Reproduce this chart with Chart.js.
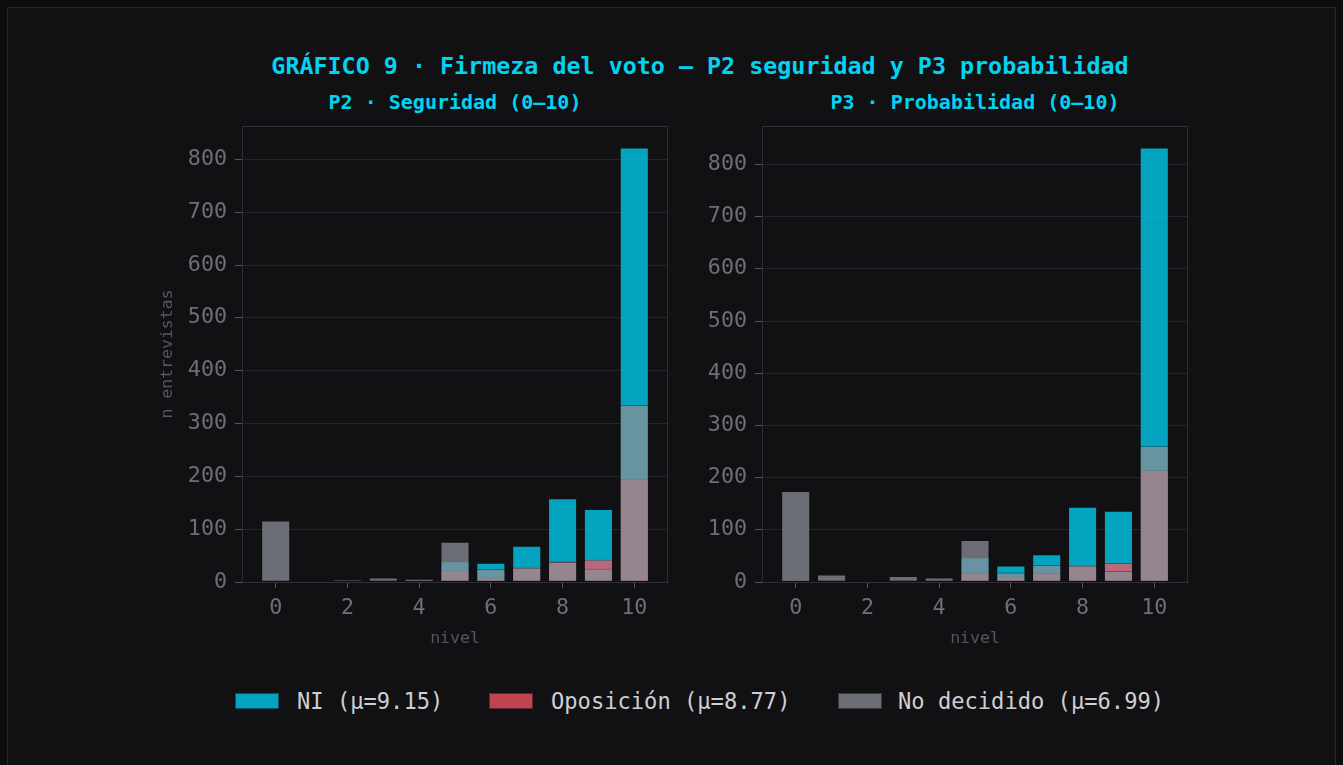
<!DOCTYPE html>
<html>
<head>
<meta charset="utf-8">
<script src="https://cdn.jsdelivr.net/npm/chart.js@4.4.1/dist/chart.umd.min.js"></script>
<style>
  html, body { margin:0; padding:0; width:1343px; height:765px; overflow:hidden; background:#0d0d10; font-family:'DejaVu Sans Mono', monospace; }
  #frame { position:absolute; left:7px; top:7px; width:1329px; height:800px; border:1px solid #26262c; background:#111114; box-sizing:border-box; }
  #title { position:absolute; left:0; top:55px; width:1400px; text-align:center; font-weight:bold; font-size:23.35px; line-height:23.35px; color:#00d4f2; white-space:nowrap; }
  .sub { position:absolute; top:91.5px; width:400px; text-align:center; font-weight:bold; font-size:20px; line-height:20px; color:#00d4f2; white-space:nowrap; }
  canvas { position:absolute; }
  .lg-patch { position:absolute; top:693px; width:44px; height:16px; box-sizing:border-box; border:1px solid rgba(17,17,20,0.55); }
  .lg-text { position:absolute; top:690.3px; font-size:22.1px; line-height:22.1px; color:#cfcfd3; white-space:nowrap; }
</style>
</head>
<body>
<div id="frame"></div>
<div id="title">GRÁFICO 9 · Firmeza del voto — P2 seguridad y P3 probabilidad</div>
<div class="sub" style="left:255px;">P2 · Seguridad (0–10)</div>
<div class="sub" style="left:775px;">P3 · Probabilidad (0–10)</div>
<canvas id="c1" width="550" height="600" style="left:150px; top:80px;"></canvas>
<canvas id="c2" width="550" height="600" style="left:700px; top:80px;"></canvas>
<div id="legend"></div>
<script>
// ---- data ----
const levels = [0, 1, 2, 3, 4, 5, 6, 7, 8, 9, 10];
const xTicks = [0, 2, 4, 6, 8, 10];
const yTicks = [0, 100, 200, 300, 400, 500, 600, 700, 800];

const seriesNames = ['NI (μ=9.15)', 'Oposición (μ=8.77)', 'No decidido (μ=6.99)'];

// P2 · Seguridad
const p2NI  = [0, 0, 0, 0, 0, 39, 36, 68, 158, 138, 822];
const p2Opp = [0, 0, 0, 0, 5, 22, 8, 27, 39, 42, 195];
const p2ND  = [116, 0, 5, 8, 6, 76, 24, 27, 38, 25, 335];

// P3 · Probabilidad
const p3NI  = [2, 0, 0, 0, 0, 47, 31, 53, 144, 136, 832];
const p3Opp = [5, 0, 0, 0, 0, 18, 10, 17, 31, 36, 214];
const p3ND  = [174, 14, 4, 11, 8, 80, 18, 32, 31, 21, 260];

// ---- style ----
const colNI  = 'rgba(0,214,249,0.75)';
const colOpp = 'rgba(250,84,100,0.75)';
const colND  = 'rgba(137,141,149,0.75)';
const edge   = 'rgba(17,17,20,0.6)';
const FONT = "'DejaVu Sans Mono', monospace";
const tickColor = '#6e6e76';
const gridColor = '#24242a';
const spineColor = '#2e2e36';
const tickMarkColor = '#55555c';
const labelColor = '#56565e';

const framePlugin = {
  id: 'frame',
  afterDatasetsDraw(chart) {
    const { ctx, chartArea: a } = chart;
    ctx.save();
    ctx.strokeStyle = spineColor;
    ctx.lineWidth = 1;
    ctx.strokeRect(Math.round(a.left) + 0.5, Math.round(a.top) + 0.5, Math.round(a.width) - 1, Math.round(a.height));
    ctx.restore();
  }
};

function makeChart(id, ni, opp, nd, yWidth, rightPad, yTitle) {
  const barW = 0.8;
  const xSpan = (levels[levels.length - 1] - levels[0]) + barW;
  const xMin = levels[0] - barW / 2 - 0.05 * xSpan;
  const xMax = levels[levels.length - 1] + barW / 2 + 0.05 * xSpan;
  const yMax = Math.max(...ni, ...opp, ...nd) * 1.05;
  const mk = (label, vals, color, order) => ({
    label,
    data: levels.map((l, i) => ({ x: l, y: vals[i] })),
    backgroundColor: color,
    borderColor: edge,
    borderWidth: 0.8,
    borderSkipped: false,
    order,
    categoryPercentage: barW,
    barPercentage: 1
  });
  return new Chart(document.getElementById(id), {
    type: 'bar',
    data: {
      datasets: [
        mk(seriesNames[0], ni, colNI, 3),
        mk(seriesNames[1], opp, colOpp, 2),
        mk(seriesNames[2], nd, colND, 1)
      ]
    },
    options: {
      responsive: false,
      animation: false,
      devicePixelRatio: 1,
      layout: { padding: { left: 0, right: rightPad, top: 46, bottom: 31 } },
      plugins: {
        legend: { display: false },
        tooltip: { enabled: false },
        title: { display: false }
      },
      scales: {
        x: {
          type: 'linear',
          stacked: true,
          offset: false,
          min: xMin,
          max: xMax,
          afterBuildTicks: (s) => { s.ticks = xTicks.map(v => ({ value: v })); },
          afterFit: (s) => { s.height = 67; },
          grid: { display: true, offset: false, drawOnChartArea: false, drawTicks: true, tickLength: 6, tickColor: tickMarkColor, color: gridColor },
          border: { display: true, color: spineColor },
          ticks: { color: tickColor, font: { family: FONT, size: 21.7 }, padding: 7, maxRotation: 0, autoSkip: false },
          title: { display: true, text: 'nivel', color: labelColor, font: { family: FONT, size: 16.5 }, padding: { top: 0, bottom: 0 } }
        },
        y: {
          stacked: false,
          min: 0,
          max: yMax,
          afterBuildTicks: (s) => { s.ticks = yTicks.map(v => ({ value: v })); },
          afterFit: (s) => { s.width = yWidth; },
          grid: { color: gridColor, drawTicks: true, tickLength: 7, tickColor: tickMarkColor },
          border: { display: true, color: spineColor },
          ticks: { color: tickColor, font: { family: FONT, size: 21.7 }, padding: 8 },
          title: { display: !!yTitle, text: yTitle || '', color: labelColor, font: { family: FONT, size: 16.5 }, padding: { top: 7.7, bottom: 0 } }
        }
      }
    },
    plugins: [framePlugin]
  });
}

makeChart('c1', p2NI, p2Opp, p2ND, 92, 32, 'n entrevistas');
makeChart('c2', p3NI, p3Opp, p3ND, 62, 62, null);

// ---- legend (HTML) ----
const legendItems = [
  { name: seriesNames[0], color: colNI, patchX: 235, textX: 297 },
  { name: seriesNames[1], color: colOpp, patchX: 489, textX: 551 },
  { name: seriesNames[2], color: colND, patchX: 838, textX: 898 }
];
const lg = document.getElementById('legend');
legendItems.forEach(it => {
  const p = document.createElement('div');
  p.className = 'lg-patch';
  p.style.left = it.patchX + 'px';
  p.style.background = it.color;
  lg.appendChild(p);
  const t = document.createElement('div');
  t.className = 'lg-text';
  t.style.left = it.textX + 'px';
  t.textContent = it.name;
  lg.appendChild(t);
});
</script>
</body>
</html>
